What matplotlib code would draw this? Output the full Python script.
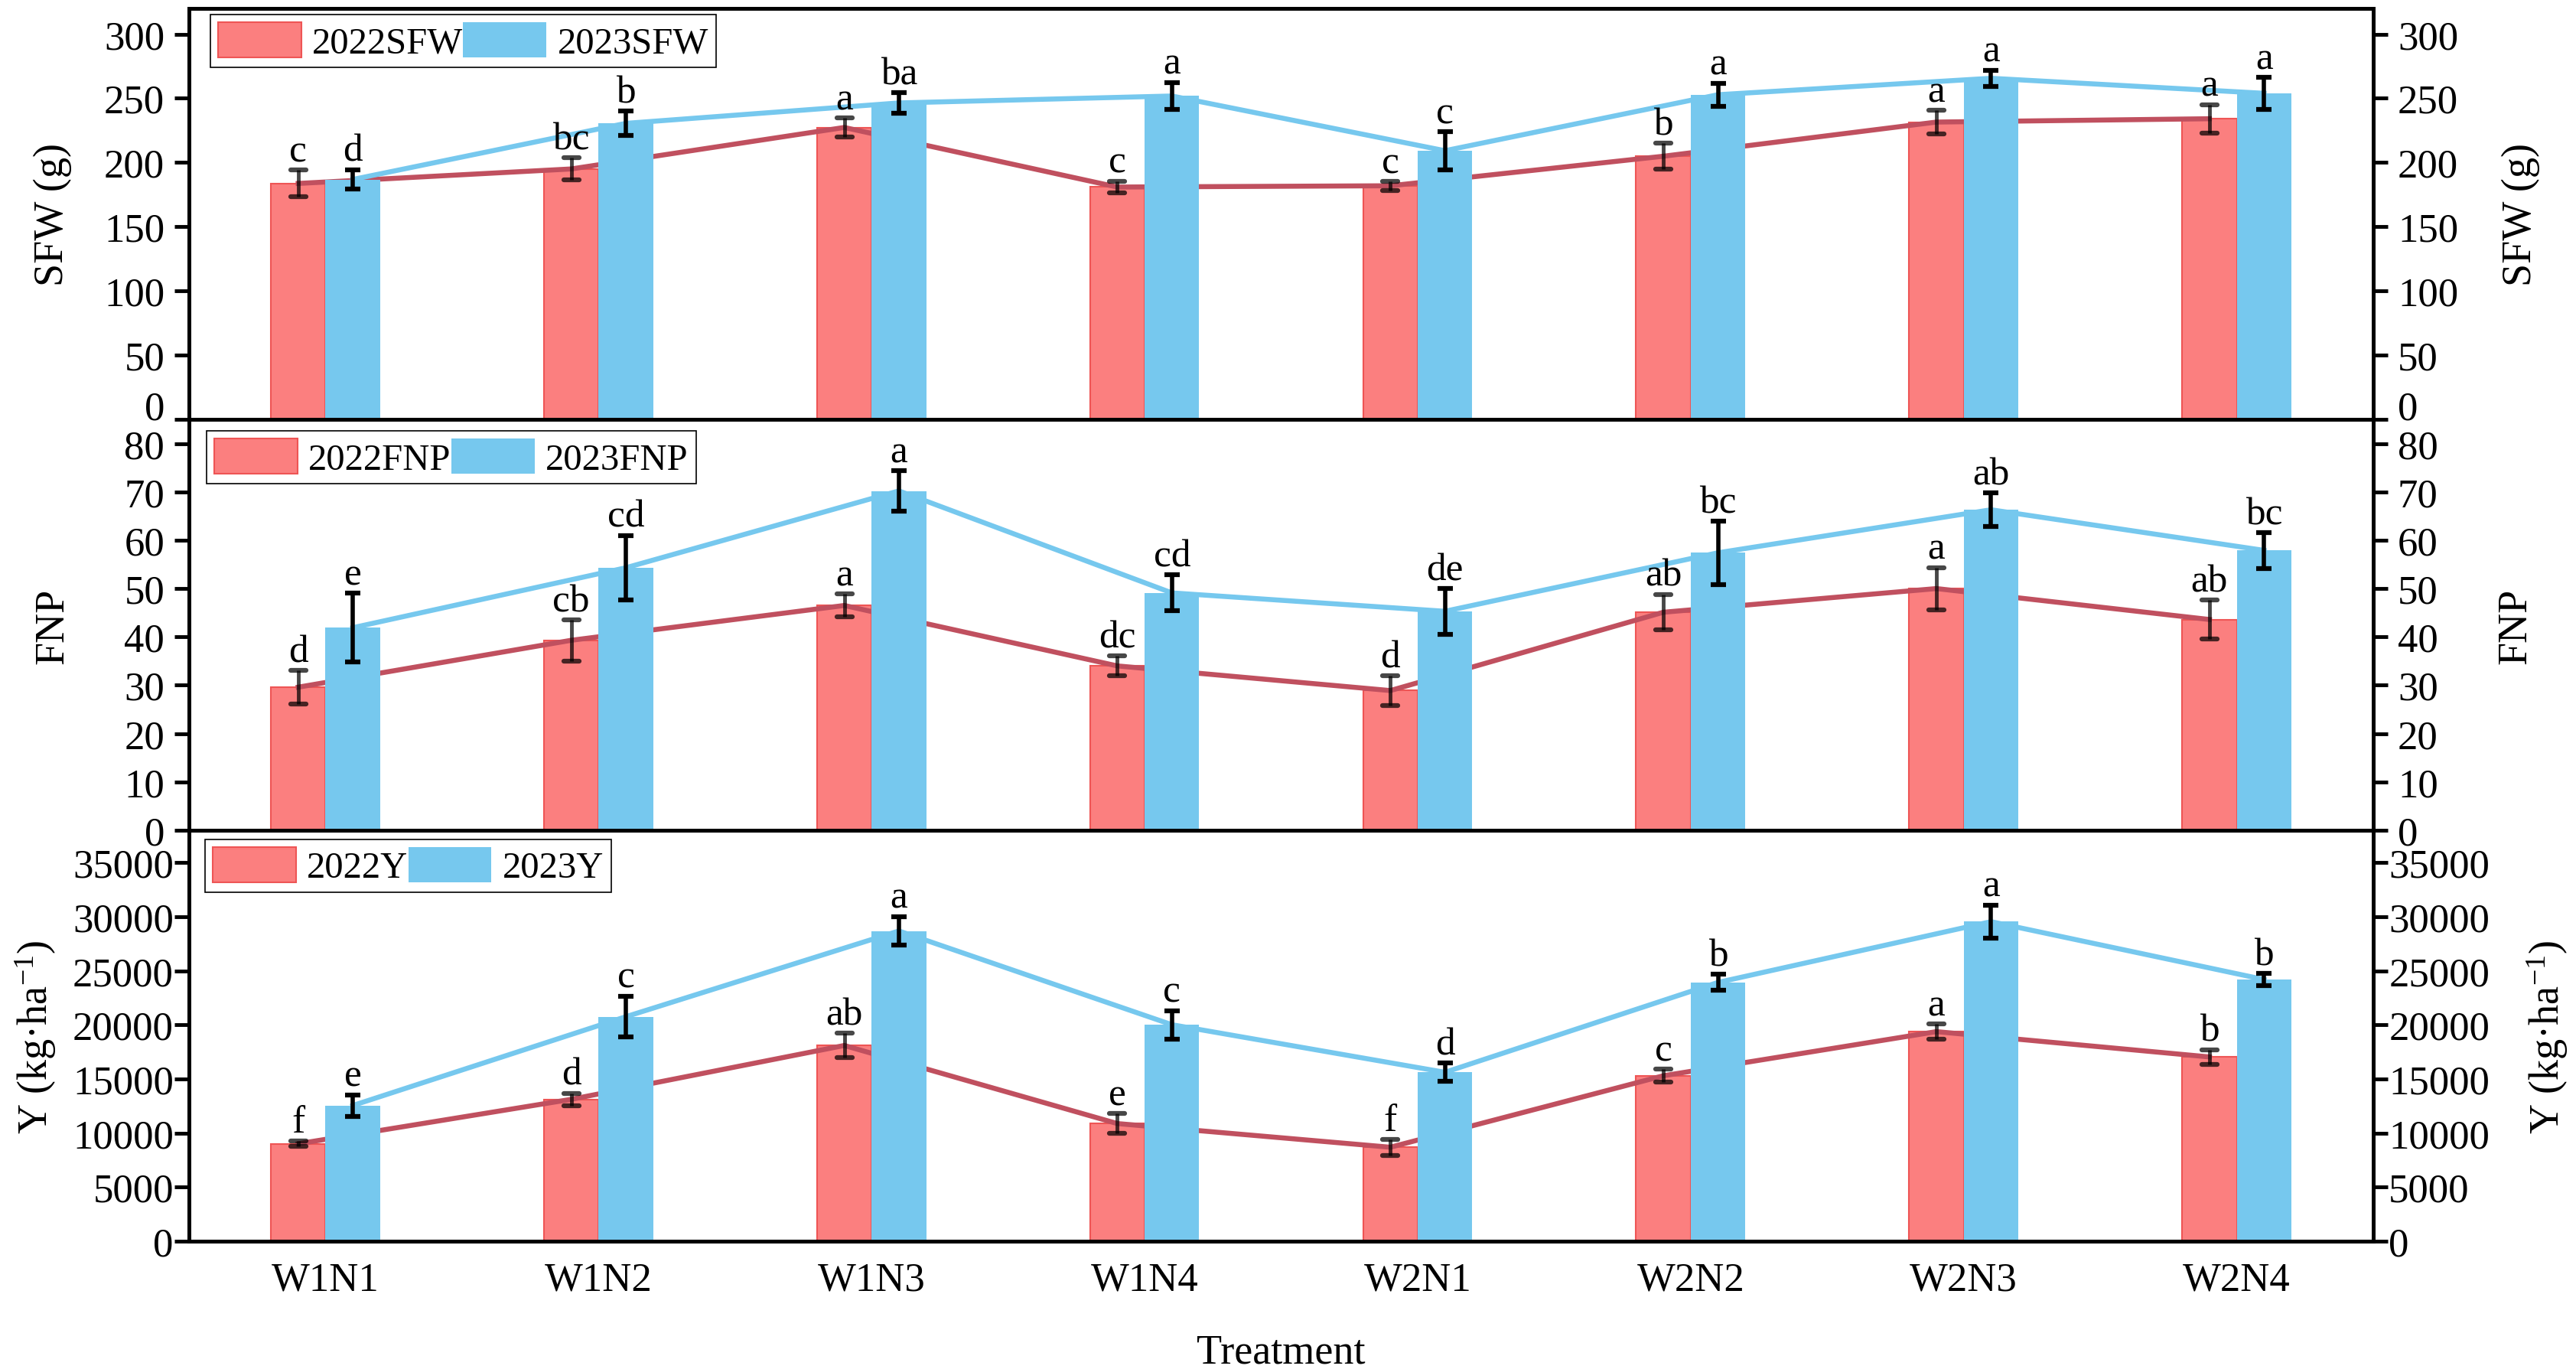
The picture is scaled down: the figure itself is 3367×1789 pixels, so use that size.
import matplotlib
matplotlib.use('Agg')
import matplotlib.pyplot as plt
import numpy as np
from matplotlib.markers import MarkerStyle

plt.rcParams['font.family'] = ['Liberation Serif', 'DejaVu Serif']
plt.rcParams['mathtext.fontset'] = 'custom'
plt.rcParams['mathtext.rm'] = 'Liberation Serif'
plt.rcParams['mathtext.it'] = 'Liberation Serif:italic'
plt.rcParams['mathtext.bf'] = 'Liberation Serif:bold'
plt.rcParams['axes.linewidth'] = 3.5

# ---------------- data ----------------
treatments = ['W1N1', 'W1N2', 'W1N3', 'W1N4', 'W2N1', 'W2N2', 'W2N3', 'W2N4']

sfw_2022 = [183.7, 195.0, 227.3, 180.9, 181.9, 204.9, 231.5, 234.1]
sfw_2022_err = [10.5, 8.7, 7.3, 4.7, 3.5, 10.0, 9.0, 11.0]
sfw_2023 = [186.8, 230.5, 246.4, 251.8, 209.2, 252.8, 265.6, 253.9]
sfw_2023_err = [7.7, 9.5, 7.8, 10.6, 14.7, 9.0, 6.4, 12.3]
sfw_2022_sig = ['c', 'bc', 'a', 'c', 'c', 'b', 'a', 'a']
sfw_2023_sig = ['d', 'b', 'ba', 'a', 'c', 'a', 'a', 'a']

fnp_2022 = [29.6, 39.3, 46.5, 34.0, 28.9, 45.1, 50.0, 43.6]
fnp_2022_err = [3.5, 4.25, 2.4, 2.05, 3.1, 3.7, 4.35, 4.05]
fnp_2023 = [41.9, 54.3, 70.2, 49.1, 45.3, 57.4, 66.3, 57.9]
fnp_2023_err = [7.1, 6.7, 4.2, 3.7, 4.7, 6.55, 3.5, 3.7]
fnp_2022_sig = ['d', 'cb', 'a', 'dc', 'd', 'ab', 'a', 'ab']
fnp_2023_sig = ['e', 'cd', 'a', 'cd', 'de', 'bc', 'ab', 'bc']

y_2022 = [9010, 13120, 18100, 10880, 8690, 15300, 19380, 17040]
y_2022_err = [250, 570, 1150, 930, 750, 590, 720, 670]
y_2023 = [12550, 20760, 28690, 20020, 15620, 23930, 29550, 24200]
y_2023_err = [990, 1900, 1330, 1310, 860, 750, 1550, 545]
y_2022_sig = ['f', 'd', 'ab', 'e', 'f', 'c', 'a', 'b']
y_2023_sig = ['e', 'c', 'a', 'c', 'd', 'b', 'a', 'b']

sfw_ticks = [0, 50, 100, 150, 200, 250, 300]
fnp_ticks = [0, 10, 20, 30, 40, 50, 60, 70, 80]
y_ticks = [0, 5000, 10000, 15000, 20000, 25000, 30000, 35000]

# ---------------- style ----------------
RED = '#FB7F7F'
RED_EDGE = '#EE5555'
RED_LINE = '#C0505F'
BLUE = '#76C8EE'

W, H = 3367, 1790
fig = plt.figure(figsize=(W / 100, H / 100), dpi=100)

left = 247 / W
width = (3102 - 247) / W
ph = 537 / H


def make_ax(top_px):
    return fig.add_axes([left, 1 - (top_px + 537) / H, width, ph])


x = np.arange(len(treatments))
bw = 0.2


def draw_panel(ax, v22, e22, s22, v23, e23, s23, ylim, ticks, leg_labels,
               leg_anchor, tpad, bottom=False, raise_zero=False):
    ax.bar(x - bw / 2, v22, bw, color=RED, edgecolor=RED_EDGE, linewidth=1.5,
           zorder=2, label=leg_labels[0])
    ax.plot(x - bw / 2, v22, color=RED_LINE, lw=4.7, zorder=3)
    ax.bar(x + bw / 2, v23, bw, color=BLUE, edgecolor=BLUE, linewidth=0,
           zorder=4, label=leg_labels[1])
    ax.plot(x + bw / 2, v23, color=BLUE, lw=4.7, zorder=5)
    eb1 = ax.errorbar(x - bw / 2, v22, yerr=e22, fmt='none', ecolor='black',
                      alpha=0.72, elinewidth=3.5, capsize=7.5, capthick=4.5,
                      zorder=6)
    for cl in eb1[1]:
        cl.set_marker(MarkerStyle('_', capstyle='round'))
    ax.errorbar(x + bw / 2, v23, yerr=e23, fmt='none', ecolor='black',
                elinewidth=4, capsize=7.2, capthick=4.5, zorder=6)
    for xi, v, e, s in zip(x - bw / 2, v22, e22, s22):
        ax.annotate(s, (xi, v + e), xytext=(0, 8.5), textcoords='offset points',
                    ha='center', va='baseline', fontsize=37, zorder=7)
    for xi, v, e, s in zip(x + bw / 2, v23, e23, s23):
        ax.annotate(s, (xi, v + e), xytext=(0, 8.5), textcoords='offset points',
                    ha='center', va='baseline', fontsize=37, zorder=7)

    ax.set_xlim(-0.5, len(treatments) - 0.5)
    ax.set_ylim(*ylim)
    ax.set_yticks(ticks)
    ax.set_yticklabels([str(t) for t in ticks])
    ax.tick_params(axis='y', direction='out', length=14, width=3.5,
                   labelsize=38, pad=tpad)
    ax.set_xticks(x)
    if bottom:
        ax.set_xticklabels(treatments)
        ax.tick_params(axis='x', length=0, labelsize=38, pad=19)
    else:
        ax.tick_params(axis='x', length=0, labelbottom=False)

    ax2 = ax.twinx()
    ax2.set_ylim(*ylim)
    ax2.set_yticks(ticks)
    ax2.set_yticklabels([str(t) for t in ticks])
    ax2.tick_params(axis='y', direction='out', length=14, width=3.5,
                    labelsize=38, pad=tpad)

    if raise_zero:
        ax.get_yticklabels()[0].set_verticalalignment('baseline')
        ax2.get_yticklabels()[0].set_verticalalignment('baseline')

    leg = ax.legend(loc='upper left', bbox_to_anchor=leg_anchor,
                    borderaxespad=0, ncol=2, fontsize=35, frameon=True,
                    fancybox=False, edgecolor='black', framealpha=1,
                    handlelength=2.24, handleheight=1.1, handletextpad=0.3,
                    columnspacing=0.0, borderpad=0.2)
    leg.get_frame().set_linewidth(1.2)
    leg.set_zorder(10)
    return ax2


ax1 = make_ax(12)
draw_panel(ax1, sfw_2022, sfw_2022_err, sfw_2022_sig,
           sfw_2023, sfw_2023_err, sfw_2023_sig,
           (0, 320), sfw_ticks, ['2022SFW', '2023SFW'],
           (0.0098, 0.985), 9, raise_zero=True)

ax2 = make_ax(549)
draw_panel(ax2, fnp_2022, fnp_2022_err, fnp_2022_sig,
           fnp_2023, fnp_2023_err, fnp_2023_sig,
           (0, 85), fnp_ticks, ['2022FNP', '2023FNP'],
           (0.0081, 0.972), 9)

ax3 = make_ax(1086)
draw_panel(ax3, y_2022, y_2022_err, y_2022_sig,
           y_2023, y_2023_err, y_2023_sig,
           (0, 38000), y_ticks, ['2022Y', '2023Y'],
           (0.0074, 0.978), 0.5, bottom=True)

# axis labels
def vlabel(xp, yp, s):
    fig.text(xp / W, 1 - yp / H, s, rotation=90, rotation_mode='anchor',
             ha='center', va='baseline', fontsize=39)

vlabel(82, 280, 'SFW (g)')
vlabel(3308, 280, 'SFW (g)')
vlabel(82, 818, 'FNP')
vlabel(3301, 818, 'FNP')
vlabel(62, 1355, 'Y (kg·ha$^{-1}$)')
vlabel(3345, 1355, 'Y (kg·ha$^{-1}$)')

fig.text(1674.5 / W, 1 - 1782 / H, 'Treatment', ha='center', va='baseline',
         fontsize=39)

fig.savefig('out.png', dpi=100)
